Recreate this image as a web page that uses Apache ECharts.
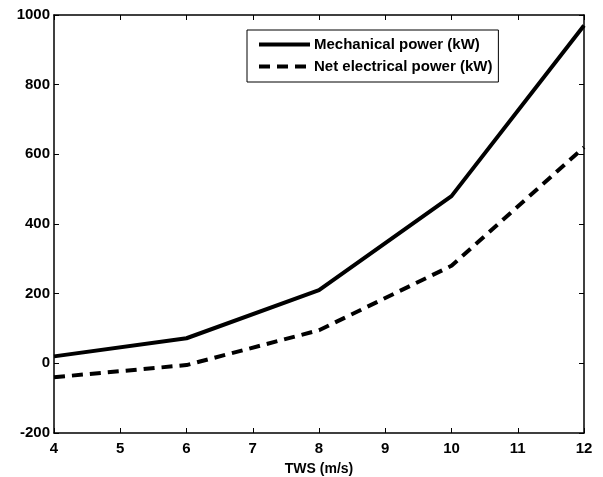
<!DOCTYPE html>
<html><head><meta charset="utf-8">
<script src="https://cdn.jsdelivr.net/npm/echarts@6/dist/echarts.min.js"></script>
<style>html,body{margin:0;padding:0;background:#fff}#c{width:603px;height:477px}</style>
</head><body><div id="c"></div>
<script>
const tws = [4, 6, 8, 10, 12];
const mechanical = [20, 72, 210, 480, 970];
const netElectrical = [-40, -5, 95, 280, 620];
const seriesNames = ['Mechanical power (kW)', 'Net electrical power (kW)'];
const xTitle = 'TWS (m/s)';

const font = 'Liberation Sans, Arial, sans-serif';
const chart = echarts.init(document.getElementById('c'));
const axisCommon = {
  axisLine: {show: true, onZero: false, lineStyle: {color: '#000', width: 1.5}},
  axisTick: {show: true, inside: true, length: 5, lineStyle: {color: '#000', width: 1}},
  splitLine: {show: false}
};
chart.setOption({
  animation: false,
  grid: {left: 54, right: 19, top: 15, bottom: 44, containLabel: false, outerBoundsMode: 'none'},
  legend: {
    orient: 'vertical', left: 247, top: 30,
    backgroundColor: '#fff', borderColor: '#000', borderWidth: 1,
    padding: [7, 6, 8, 10], itemGap: 7, itemWidth: 51, itemHeight: 14,
    itemStyle: {opacity: 0},
    lineStyle: {width: 4, color: '#000'},
    textStyle: {fontFamily: font, fontWeight: 'bold', fontSize: 15, color: '#000', padding: [0, 0, 0, -1]},
    data: seriesNames
  },
  xAxis: [
    Object.assign({type: 'value', min: 4, max: 12, interval: 1,
      name: xTitle, nameLocation: 'middle', nameGap: 29,
      nameTextStyle: {fontFamily: font, fontWeight: 'bold', fontSize: 14, color: '#000'},
      axisLabel: {fontFamily: font, fontWeight: 'bold', fontSize: 15, color: '#000', margin: 8}}, axisCommon),
    Object.assign({type: 'value', min: 4, max: 12, interval: 1, position: 'top',
      axisLabel: {show: false}}, axisCommon)
  ],
  yAxis: [
    Object.assign({type: 'value', min: -200, max: 1000, interval: 200,
      axisLabel: {fontFamily: font, fontWeight: 'bold', fontSize: 15, color: '#000', margin: 4,
        formatter: v => String(v)}}, axisCommon),
    Object.assign({type: 'value', min: -200, max: 1000, interval: 200, position: 'right',
      axisLabel: {show: false}}, axisCommon)
  ],
  series: [
    {name: seriesNames[0], type: 'line', showSymbol: false, symbol: 'none',
     data: tws.map((x, i) => [x, mechanical[i]]),
     lineStyle: {color: '#000', width: 4}, itemStyle: {color: '#000'}},
    {name: seriesNames[1], type: 'line', showSymbol: false, symbol: 'none',
     data: tws.map((x, i) => [x, netElectrical[i]]),
     lineStyle: {color: '#000', width: 4, type: [11, 7]}, itemStyle: {color: '#000'}}
  ]
});
</script></body></html>
